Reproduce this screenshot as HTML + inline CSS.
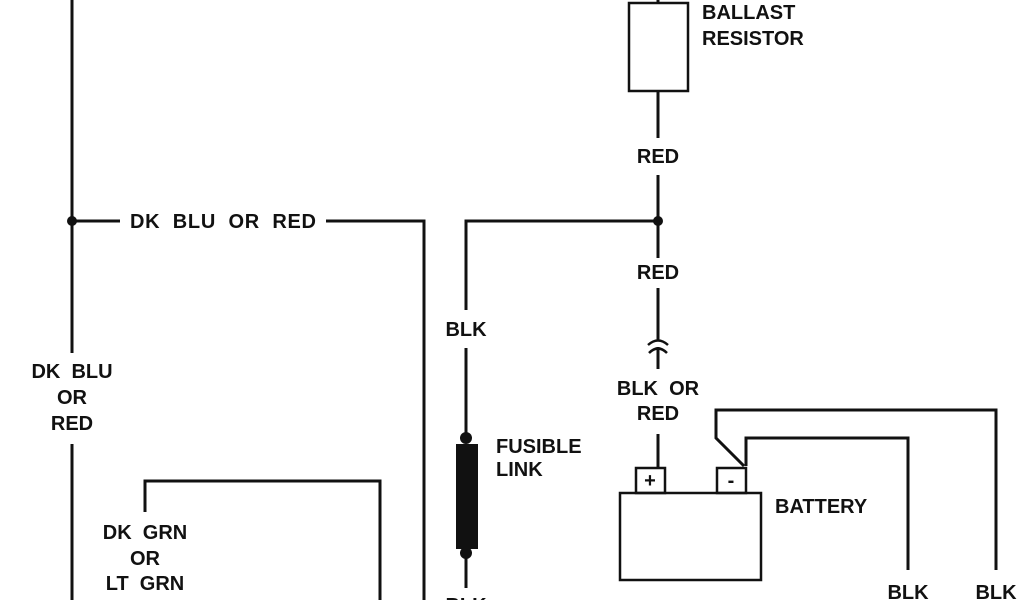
<!DOCTYPE html>
<html><head><style>
html,body{margin:0;padding:0;background:#fff;}
svg{display:block}
text{font-family:"Liberation Sans",sans-serif;font-weight:bold;font-size:20px;fill:#111;white-space:pre;}
</style></head><body>
<svg width="1024" height="600" viewBox="0 0 1024 600" xmlns="http://www.w3.org/2000/svg" xml:space="preserve">
<g stroke="#111" stroke-width="3" fill="none">
<line x1="72" y1="0" x2="72" y2="353"/>
<line x1="72" y1="444" x2="72" y2="600"/>
<line x1="72" y1="221" x2="120" y2="221"/>
<polyline points="326,221 424,221 424,600"/>
<polyline points="145,512 145,481 380,481 380,600"/>
<polyline points="466,310 466,221 658,221"/>
<line x1="466" y1="348" x2="466" y2="438"/>
<line x1="466" y1="553" x2="466" y2="588"/>
<line x1="658" y1="0" x2="658" y2="3"/>
<rect x="629" y="3" width="59" height="88" stroke-width="2.5"/>
<line x1="658" y1="91" x2="658" y2="138"/>
<line x1="658" y1="175" x2="658" y2="258"/>
<line x1="658" y1="288" x2="658" y2="340"/>
<line x1="658" y1="347" x2="658" y2="369"/>
<path d="M648,345 Q658,336 668,345" stroke-width="2.5"/>
<path d="M649,353 Q658,344 667,353" stroke-width="2.5"/>
<line x1="658" y1="434" x2="658" y2="468"/>
<rect x="636" y="468" width="29" height="25" stroke-width="2.5"/>
<rect x="717" y="468" width="29" height="25" stroke-width="2.5"/>
<rect x="620" y="493" width="141" height="87" stroke-width="2.5"/>
<polyline points="746,466 746,438 908,438 908,570"/>
<polyline points="744,466 716,438 716,410 996,410 996,570"/>
</g>
<circle cx="72" cy="221" r="5" fill="#111"/>
<circle cx="658" cy="221" r="5" fill="#111"/>
<circle cx="466" cy="438" r="6" fill="#111"/>
<circle cx="466" cy="553" r="6" fill="#111"/>
<rect x="456" y="444" width="22" height="105" fill="#111"/>
<text x="650" y="487" text-anchor="middle" font-size="15">+</text>
<text x="731" y="487" text-anchor="middle" font-size="15">-</text>
<text x="130" y="228" textLength="186" lengthAdjust="spacing">DK  BLU  OR  RED</text>
<text x="72" y="378" text-anchor="middle">DK  BLU</text>
<text x="72" y="404" text-anchor="middle">OR</text>
<text x="72" y="430" text-anchor="middle">RED</text>
<text x="145" y="539" text-anchor="middle">DK  GRN</text>
<text x="145" y="565" text-anchor="middle">OR</text>
<text x="145" y="590" text-anchor="middle">LT  GRN</text>
<text x="466" y="336" text-anchor="middle">BLK</text>
<text x="466" y="612" text-anchor="middle">BLK</text>
<text x="496" y="453">FUSIBLE</text>
<text x="496" y="476">LINK</text>
<text x="702" y="19">BALLAST</text>
<text x="702" y="45">RESISTOR</text>
<text x="658" y="163" text-anchor="middle">RED</text>
<text x="658" y="279" text-anchor="middle">RED</text>
<text x="658" y="395" text-anchor="middle">BLK  OR</text>
<text x="658" y="420" text-anchor="middle">RED</text>
<text x="775" y="513">BATTERY</text>
<text x="908" y="599" text-anchor="middle">BLK</text>
<text x="996" y="599" text-anchor="middle">BLK</text>
</svg>
</body></html>
